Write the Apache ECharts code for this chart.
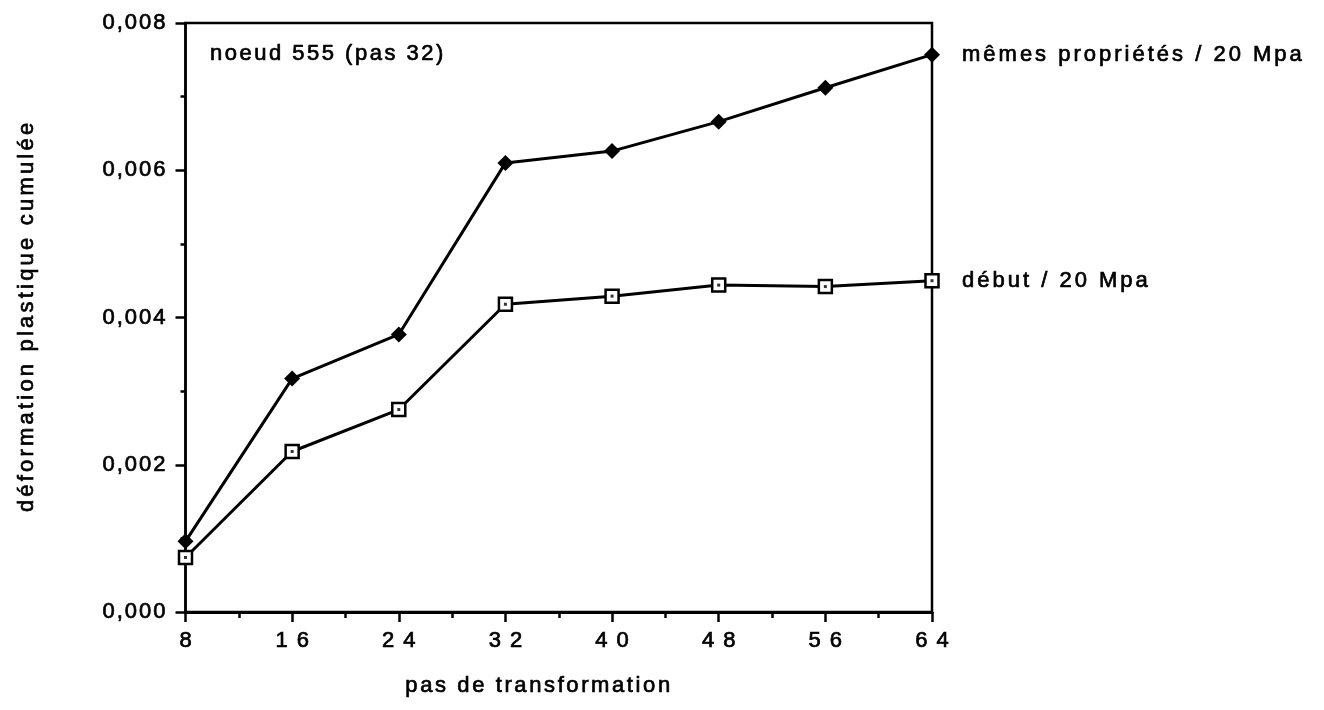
<!DOCTYPE html>
<html>
<head>
<meta charset="utf-8">
<script src="https://cdn.jsdelivr.net/npm/echarts@6/dist/echarts.min.js"></script>
<style>
html,body{margin:0;padding:0;background:#fff}
#c{width:1324px;height:710px}
</style>
</head>
<body>
<div id="c"></div>
<script>
// ---- data ----
const steps = [8, 16, 24, 32, 40, 48, 56, 64];
const memesProprietes = [0.00096, 0.00317, 0.00377, 0.00610, 0.00626, 0.00666, 0.00712, 0.00757];
const debut = [0.00074, 0.00218, 0.00275, 0.00418, 0.00429, 0.00444, 0.00442, 0.00450];
const seriesNames = ['mêmes propriétés / 20 Mpa', 'début / 20 Mpa'];
const yTickLabels = ['0,000', '0,002', '0,004', '0,006', '0,008'];
const annotation = 'noeud 555 (pas 32)';
const xTitle = 'pas de transformation';
const yTitle = 'déformation plastique cumulée';

// wide letter spacing of the original typesetting
(function () {
  const proto = CanvasRenderingContext2D.prototype;
  if (!('letterSpacing' in proto)) return;
  function spacingFor(s) {
    if (/^\d$/.test(s)) return 0;
    if (/^\d\d$/.test(s)) return 9;
    if (/^0,\d{3}$/.test(s)) return 2;
    if (s === annotation) return 2.5;
    if (s === xTitle) return 2.6;
    if (s === yTitle) return 3.2;
    return 3;
  }
  function wrap(name) {
    const orig = proto[name];
    proto[name] = function (t, x, y, mw) {
      const sp = spacingFor(String(t));
      const prev = this.letterSpacing;
      this.letterSpacing = sp + 'px';
      if (this.textAlign === 'center') x += sp / 2;
      else if (this.textAlign === 'right' || this.textAlign === 'end') x += sp;
      const r = (mw === undefined) ? orig.call(this, t, x, y) : orig.call(this, t, x, y, mw);
      this.letterSpacing = prev;
      return r;
    };
  }
  wrap('fillText');
  wrap('strokeText');
})();

const pairs = (xs, ys) => xs.map((x, i) => [x, ys[i]]);
const FONT = '"Liberation Sans", Helvetica, Arial, sans-serif';
const INK = { fontFamily: FONT, color: '#000', textBorderColor: '#000', textBorderWidth: 0.7 };

const chart = echarts.init(document.getElementById('c'), null, { renderer: 'canvas' });
chart.setOption({
  animation: false,
  backgroundColor: '#fff',
  textStyle: { fontFamily: FONT, color: '#000' },
  title: {
    text: annotation,
    left: 205, top: 38,
    textStyle: Object.assign({ fontSize: 22, fontWeight: 'normal' }, INK)
  },
  grid: {
    left: 185.5, right: 392, top: 23, bottom: 98,
    show: true, borderColor: '#000', borderWidth: 2.5, backgroundColor: 'transparent'
  },
  xAxis: {
    type: 'value', min: 8, max: 64, interval: 8,
    name: xTitle, nameLocation: 'middle', nameGap: 63,
    nameTextStyle: Object.assign({ fontSize: 22, padding: [0, 42, 0, 0] }, INK),
    axisLine: { show: true, lineStyle: { color: '#000', width: 3 } },
    axisTick: { show: true, inside: false, length: 10, lineStyle: { color: '#000', width: 2.5 } },
    minorTick: { show: true, splitNumber: 2, length: 6, lineStyle: { color: '#000', width: 2.5 } },
    splitLine: { show: false },
    axisLabel: Object.assign({ fontSize: 22, margin: 18 }, INK)
  },
  yAxis: {
    type: 'value', min: 0, max: 0.008, interval: 0.002,
    name: yTitle, nameLocation: 'middle', nameGap: 148,
    nameTextStyle: Object.assign({ fontSize: 22 }, INK),
    axisLine: { show: true, lineStyle: { color: '#000', width: 2.5 } },
    axisTick: { show: true, inside: false, length: 10, lineStyle: { color: '#000', width: 2.5 } },
    minorTick: { show: true, splitNumber: 2, length: 5, lineStyle: { color: '#000', width: 2.5 } },
    splitLine: { show: false },
    axisLabel: Object.assign({
      fontSize: 22, margin: 20,
      formatter: v => yTickLabels[Math.round(v / 0.002)]
    }, INK)
  },
  series: [
    {
      name: seriesNames[0], type: 'line', clip: false,
      data: pairs(steps, memesProprietes),
      symbol: 'diamond', symbolSize: 16,
      itemStyle: { color: '#000' },
      lineStyle: { color: '#000', width: 3 },
      endLabel: Object.assign({ show: true, formatter: '{a}', distance: 30, fontSize: 22 }, INK),
      z: 3
    },
    {
      name: seriesNames[1], type: 'line', clip: false,
      data: pairs(steps, debut),
      symbol: 'rect', symbolSize: 13,
      itemStyle: { color: '#fff', borderColor: '#000', borderWidth: 2.5 },
      lineStyle: { color: '#000', width: 3 },
      endLabel: Object.assign({ show: true, formatter: '{a}', distance: 30, fontSize: 22 }, INK),
      z: 3
    },
    {
      name: seriesNames[1] + ' (centre)', type: 'scatter', silent: true, clip: false,
      data: pairs(steps, debut),
      symbol: 'rect', symbolSize: 3,
      itemStyle: { color: '#000' },
      z: 4
    }
  ]
});
</script>
</body>
</html>
